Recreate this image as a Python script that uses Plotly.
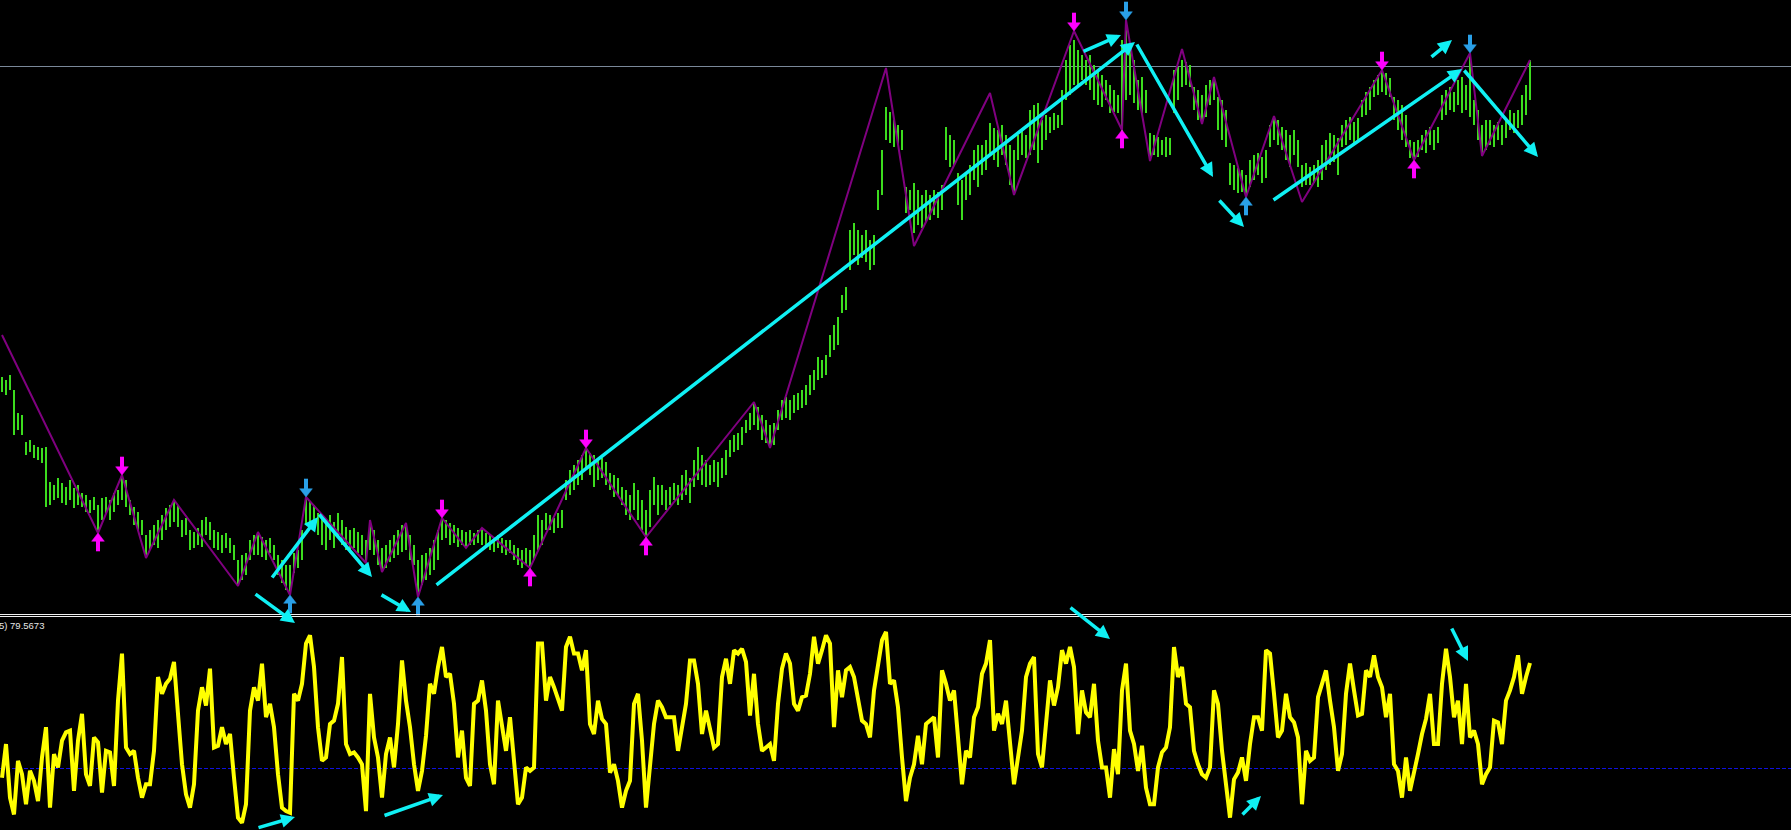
import plotly.graph_objects as go

# ---------------- price bars (bar index 0..382), price in points ----------------
bar_high = [
    236, 233, 238, 223, 200, 198, 171, 173, 168, 166,
    165, 166, 131, 128, 135, 130, 126, 133, 125, 128,
    120, 118, 113, 116, 108, 115, 116, 113, 120, 123,
    138, 133, 113, 106, 101, 93, 78, 83, 88, 93,
    98, 105, 108, 113, 108, 93, 95, 83, 81, 85,
    93, 96, 91, 83, 81, 78, 80, 75, 68, 53,
    58, 60, 73, 78, 81, 76, 73, 75, 68, 58,
    53, 48, 48, 60, 63, 83, 116, 111, 108, 100,
    95, 93, 98, 91, 100, 93, 86, 83, 85, 81,
    78, 73, 93, 83, 73, 65, 68, 73, 78, 83,
    88, 90, 78, 68, 53, 58, 60, 65, 73, 83,
    95, 93, 90, 88, 85, 83, 81, 83, 80, 83,
    85, 80, 78, 76, 78, 75, 73, 73, 68, 65,
    63, 65, 63, 78, 98, 93, 100, 98, 95, 100,
    103, 133, 143, 148, 153, 158, 165, 160, 158, 153,
    155, 151, 140, 138, 135, 126, 123, 118, 130, 123,
    113, 103, 123, 136, 128, 128, 123, 126, 130, 128,
    138, 143, 135, 153, 166, 158, 153, 148, 153, 151,
    155, 163, 173, 178, 180, 186, 193, 200, 211, 206,
    198, 193, 188, 190, 203, 213, 216, 213, 218, 220,
    223, 228, 238, 243, 256, 253, 258, 278, 288, 296,
    318, 326, 383, 390, 383, 378, 383, 373, 378, 423,
    463, 506, 501, 493, 488, 483, 426, 423, 430, 423,
    418, 423, 418, 423, 421, 428, 486, 478, 473, 440,
    433, 438, 448, 463, 468, 468, 473, 490, 485, 483,
    488, 478, 468, 463, 478, 483, 478, 503, 508, 510,
    493, 498, 496, 500, 498, 523, 553, 568, 573, 563,
    558, 553, 558, 548, 543, 538, 533, 528, 523, 518,
    573, 593, 568, 553, 533, 536, 523, 480, 478, 476,
    473, 476, 475, 543, 546, 553, 551, 548, 526, 523,
    518, 528, 533, 536, 516, 513, 503, 450, 448, 445,
    443, 438, 453, 458, 460, 456, 463, 488, 496, 493,
    486, 483, 478, 483, 473, 448, 450, 446, 448, 453,
    468, 473, 480, 478, 475, 488, 493, 496, 491, 495,
    513, 521, 526, 533, 538, 543, 540, 535, 516, 513,
    508, 498, 473, 471, 473, 478, 483, 486, 483, 486,
    518, 523, 526, 521, 533, 536, 528, 560, 513, 503,
    488, 493, 493, 488, 491, 488, 493, 503, 500, 503,
    518, 528, 553,
]
bar_low = [
    221, 218, 223, 178, 183, 178, 158, 161, 155, 153,
    150, 106, 108, 113, 115, 110, 108, 113, 105, 108,
    106, 101, 100, 103, 80, 93, 100, 93, 101, 108,
    113, 106, 98, 88, 83, 78, 55, 63, 68, 65,
    73, 83, 86, 91, 86, 76, 78, 63, 65, 68,
    66, 78, 73, 65, 63, 60, 65, 60, 53, 27,
    33, 38, 53, 58, 58, 56, 53, 60, 53, 38,
    30, 23, 18, 40, 45, 53, 88, 86, 88, 78,
    68, 63, 73, 65, 75, 68, 63, 60, 65, 60,
    58, 50, 63, 58, 48, 41, 45, 51, 55, 58,
    61, 63, 53, 48, 16, 28, 33, 38, 43, 53,
    73, 75, 68, 70, 66, 68, 65, 68, 68, 70,
    68, 65, 63, 61, 65, 60, 58, 60, 53, 48,
    45, 48, 45, 53, 63, 68, 83, 83, 80, 85,
    85, 113, 118, 123, 128, 133, 143, 138, 126, 133,
    135, 128, 123, 116, 118, 108, 98, 93, 103, 93,
    83, 76, 86, 108, 98, 108, 103, 108, 113, 108,
    113, 118, 110, 126, 133, 128, 126, 128, 131, 126,
    135, 138, 156, 161, 163, 168, 180, 183, 188, 183,
    173, 170, 165, 168, 183, 193, 195, 193, 200, 203,
    205, 208, 218, 223, 233, 235, 238, 256, 263, 268,
    300, 303, 343, 358, 348, 355, 351, 343, 348, 403,
    418, 473, 470, 466, 468, 463, 400, 403, 380, 388,
    385, 391, 393, 398, 395, 403, 453, 446, 448, 408,
    393, 413, 418, 433, 426, 438, 443, 458, 453, 446,
    458, 448, 428, 420, 453, 458, 455, 458, 463, 450,
    463, 473, 480, 483, 485, 488, 513, 518, 528, 526,
    533, 528, 523, 513, 508, 506, 513, 500, 501, 500,
    481, 513, 518, 510, 503, 500, 500, 453, 458, 456,
    458, 456, 458, 500, 513, 526, 528, 526, 503, 493,
    493, 496, 508, 513, 483, 473, 466, 428, 423, 420,
    421, 416, 426, 433, 438, 430, 435, 466, 473, 468,
    463, 453, 446, 458, 446, 426, 428, 428, 430, 426,
    433, 443, 448, 451, 438, 466, 468, 473, 468, 473,
    496, 498, 503, 516, 518, 521, 518, 516, 493, 483,
    473, 466, 455, 453, 456, 463, 460, 468, 463, 470,
    493, 498, 503, 501, 508, 500, 503, 496, 488, 473,
    457, 463, 468, 466, 473, 468, 475, 483, 480, 485,
    488, 498, 513,
]

# ---------------- oscillator (0..100), one value per bar ----------------
osc_values = [
    25.7, 41.5, 16.3, 8.4, 33.6, 27.3, 13.2, 28.9, 24.2, 14.7,
    35.2, 49.4, 11.6, 36.8, 30.5, 43.1, 47.0, 47.8, 19.5, 43.1,
    55.7, 27.3, 21.8, 44.6, 42.3, 18.7, 38.3, 37.6, 21.8, 61.9,
    84.0, 39.9, 36.8, 38.3, 25.7, 16.3, 22.6, 22.6, 38.3, 73.0,
    65.1, 69.8, 72.2, 80.1, 55.7, 32.0, 17.9, 11.6, 22.6, 57.2,
    68.2, 59.6, 76.9, 39.9, 40.7, 49.4, 41.5, 46.2, 25.7, 6.9,
    4.5, 13.2, 57.2, 68.2, 61.9, 79.3, 54.1, 60.4, 49.4, 27.3,
    11.6, 10.0, 9.2, 65.1, 61.9, 69.8, 88.7, 92.6, 77.7, 49.4,
    33.6, 35.2, 50.9, 52.5, 60.4, 82.4, 41.5, 36.8, 37.6, 35.2,
    32.0, 10.0, 65.1, 44.6, 35.2, 16.3, 36.8, 44.6, 30.5, 50.9,
    80.8, 61.9, 49.4, 32.0, 19.5, 28.9, 45.4, 69.8, 65.1, 77.7,
    87.1, 73.0, 74.5, 60.4, 35.2, 47.8, 25.7, 21.8, 60.4, 61.9,
    71.4, 57.2, 32.0, 22.6, 61.9, 49.4, 38.3, 54.1, 35.2, 13.2,
    16.3, 30.5, 28.9, 30.5, 88.7, 88.7, 61.9, 73.0, 68.2, 62.7,
    57.2, 87.1, 91.9, 84.0, 84.0, 76.1, 85.6, 50.9, 46.2, 61.9,
    53.3, 50.9, 28.1, 32.0, 24.2, 11.6, 19.5, 24.2, 60.4, 65.1,
    43.1, 11.6, 30.5, 50.9, 61.9, 58.8, 54.1, 54.1, 54.1, 38.3,
    49.4, 60.4, 80.8, 80.8, 69.8, 46.2, 57.2, 49.4, 39.9, 41.5,
    73.0, 81.6, 69.8, 85.6, 84.0, 86.3, 80.1, 54.9, 74.5, 50.9,
    38.3, 39.9, 41.5, 33.6, 60.4, 76.9, 84.0, 79.3, 60.4, 57.2,
    63.5, 64.3, 74.5, 91.9, 79.3, 85.6, 92.6, 88.7, 49.4, 76.1,
    63.5, 76.1, 77.7, 73.0, 63.5, 52.5, 50.9, 44.6, 66.7, 79.3,
    90.3, 94.2, 69.8, 71.4, 58.8, 35.2, 14.7, 25.7, 32.0, 45.4,
    32.0, 50.9, 52.5, 54.1, 35.2, 76.1, 69.8, 61.9, 66.7, 46.2,
    22.6, 38.3, 35.2, 54.1, 58.8, 74.5, 79.3, 90.3, 47.8, 55.7,
    50.9, 61.9, 43.1, 22.6, 35.2, 47.8, 73.0, 79.3, 82.4, 36.8,
    30.5, 49.4, 71.4, 59.6, 68.2, 85.6, 79.3, 87.1, 77.7, 46.2,
    66.7, 56.4, 54.1, 69.8, 43.1, 30.5, 30.5, 16.3, 39.1, 27.3,
    66.7, 79.3, 47.8, 41.5, 28.9, 40.7, 21.0, 13.2, 13.2, 30.5,
    37.6, 39.9, 49.4, 87.1, 73.0, 77.7, 60.4, 58.8, 38.3, 32.0,
    27.3, 25.7, 30.5, 66.7, 60.4, 38.3, 22.6, 6.9, 24.9, 28.1,
    35.2, 24.2, 41.5, 54.1, 54.1, 47.8, 85.6, 84.0, 65.1, 44.6,
    47.8, 65.1, 54.1, 51.7, 44.6, 13.2, 38.3, 33.6, 35.2, 63.5,
    69.8, 76.1, 61.9, 49.4, 28.9, 36.8, 65.1, 79.3, 66.7, 54.9,
    55.7, 76.1, 73.0, 83.2, 73.0, 68.2, 54.1, 65.1, 32.0, 28.9,
    16.3, 35.2, 19.5, 27.3, 36.8, 46.2, 53.3, 65.1, 41.5, 41.5,
    69.8, 86.3, 73.0, 54.1, 61.9, 41.5, 69.8, 44.6, 47.8, 41.5,
    22.6, 27.3, 30.5, 52.5, 51.7, 41.5, 61.9, 66.7, 73.0, 83.2,
    65.1, 73.0, 79.5673,
]
osc_level = 30
osc_label = "5) 79.5673"

# ---------------- zigzag vertices ----------------
zz_idx = [0, 24, 30, 36, 43, 59, 64, 72, 76, 91,
          92, 95, 101, 104, 110, 116, 120, 132, 146, 161,
          188, 192, 221, 228, 247, 253, 268, 280, 281, 287,
          295, 300, 303, 311, 318, 325, 345, 353, 367, 370,
          382]
zz_price = [278, 80, 138, 55, 113, 27, 81, 18, 116, 50,
            93, 41, 90, 16, 95, 65, 85, 45, 165, 76,
            211, 165, 545, 367, 520, 418, 582, 483, 593, 452,
            564, 489, 536, 416, 497, 411, 543, 453, 560, 457,
            553]

# ---------------- signal arrows ----------------
sig_idx = [30, 110, 146, 268, 345, 24, 132, 161, 280, 353, 76, 281, 367, 72, 104, 311]
sig_price = [138, 95, 165, 582, 543, 80, 45, 76, 483, 453, 116, 593, 560, 18, 16, 416]
sig_dir = ["down"] * 5 + ["up"] * 5 + ["down"] * 3 + ["up"] * 3
sig_kind = ["pink"] * 10 + ["blue"] * 6

# ---------------- hand-drawn cyan arrows (bar index, price on full-height scale) ----------------
cyan_tail_idx = [67.25, 79, 63, 94.5, 108.25, 283.5, 270, 304, 317.5, 365.25, 357, 266.75, 362.25, 63.75, 95.25, 309.75]
cyan_tail_price = [34, 100, 20, 19, 27, 570, 561, 414, 412, 544, 555, 6.5, -14, -215, -203, -203]
cyan_head_idx = [79, 92.5, 73.25, 102.25, 283.25, 302.75, 279.75, 310.5, 365, 384, 362.5, 277, 366.5, 73.25, 110.25, 314.75]
cyan_head_price = [96, 36, -10, 1, 571, 436, 578, 386, 544, 456, 573, -26, -48, -204, -182, -183]

resistance_price = 546.5

N = len(bar_high)
assert len(bar_low) == N and len(osc_values) == N
assert len(zz_idx) == len(zz_price)

GREEN = "#3CDC1E"
PURPLE = "#800080"
PINK = "#FF00FF"
BLUE = "#2AA0E8"
CYAN = "#10F0F4"
YELLOW = "#FFFF00"

fig = go.Figure()

# bars as vertical high-low lines
bx, by = [], []
for i, (h, l) in enumerate(zip(bar_high, bar_low)):
    bx += [i, i, None]
    by += [l, h, None]
fig.add_trace(go.Scatter(x=bx, y=by, mode="lines", line=dict(color=GREEN, width=2),
                         xaxis="x", yaxis="y", hoverinfo="skip"))

# zigzag
fig.add_trace(go.Scatter(x=zz_idx, y=zz_price, mode="lines", line=dict(color=PURPLE, width=2),
                         xaxis="x", yaxis="y", hoverinfo="skip"))

# signal arrows (shaft + head)
for kind, color in (("pink", PINK), ("blue", BLUE)):
    for d in ("down", "up"):
        xs = [x for x, k, dd in zip(sig_idx, sig_kind, sig_dir) if k == kind and dd == d]
        ps = [p for p, k, dd in zip(sig_price, sig_kind, sig_dir) if k == kind and dd == d]
        if not xs:
            continue
        sgn = 1 if d == "down" else -1
        fig.add_trace(go.Scatter(x=xs, y=[p + sgn * 12 for p in ps], mode="markers",
                                 marker=dict(symbol="line-ns", size=9, line=dict(width=4, color=color)),
                                 xaxis="x", yaxis="y", hoverinfo="skip", cliponaxis=False))
        fig.add_trace(go.Scatter(x=xs, y=[p + sgn * 5.5 for p in ps], mode="markers",
                                 marker=dict(symbol="triangle-" + d, size=11, color=color,
                                             line=dict(width=0.5, color=color)),
                                 xaxis="x", yaxis="y", hoverinfo="skip", cliponaxis=False))

# oscillator
fig.add_trace(go.Scatter(x=list(range(N)), y=osc_values, mode="lines",
                         line=dict(color=YELLOW, width=4), xaxis="x2", yaxis="y2", hoverinfo="skip"))

# dummy trace for full-height drawing axis
fig.add_trace(go.Scatter(x=[None], y=[None], xaxis="x", yaxis="y3", hoverinfo="skip"))

for tx, ty, hx, hy in zip(cyan_tail_idx, cyan_tail_price, cyan_head_idx, cyan_head_price):
    fig.add_annotation(x=hx, y=hy, ax=tx, ay=ty, xref="x", yref="y3", axref="x", ayref="y3",
                       text="", showarrow=True, arrowhead=2, arrowsize=0.8, arrowwidth=3.5,
                       arrowcolor=CYAN, standoff=0, startstandoff=0)

H = 830.0
fig.add_annotation(x=0, y=(H - 625.5) / H, xref="paper", yref="paper", xanchor="left", yanchor="middle",
                   xshift=-3, text=osc_label, showarrow=False,
                   font=dict(family="Liberation Sans", size=9.5, color="#E6E6E6"))

shapes = [
    dict(type="line", xref="paper", x0=0, x1=1, yref="y", y0=resistance_price, y1=resistance_price,
         line=dict(color="#7A8899", width=1), layer="below"),
    dict(type="line", xref="paper", x0=0, x1=1, yref="y2", y0=osc_level, y1=osc_level,
         line=dict(color="#1010E0", width=1, dash="4px,2px"), layer="below"),
    dict(type="line", xref="paper", x0=0, x1=1, yref="paper", y0=(H - 614.5) / H, y1=(H - 614.5) / H,
         line=dict(color="#F0F0F0", width=1)),
    dict(type="line", xref="paper", x0=0, x1=1, yref="paper", y0=(H - 616.5) / H, y1=(H - 616.5) / H,
         line=dict(color="#F0F0F0", width=1)),
]

fig.update_layout(
    width=1791, height=830,
    margin=dict(l=0, r=0, t=0, b=0),
    paper_bgcolor="#000000", plot_bgcolor="rgba(0,0,0,0)",
    showlegend=False,
    xaxis=dict(range=[-0.5, 447.25], domain=[0, 1], anchor="y", visible=False, showgrid=False, zeroline=False),
    yaxis=dict(range=[0, 613], domain=[217 / H, 1], anchor="x", visible=False, showgrid=False, zeroline=False),
    xaxis2=dict(range=[-0.5, 447.25], domain=[0, 1], anchor="y2", visible=False, showgrid=False, zeroline=False),
    yaxis2=dict(range=[1.1, 101.2], domain=[0, 213 / H], anchor="x2", visible=False, showgrid=False, zeroline=False),
    yaxis3=dict(range=[-217, 613], domain=[0, 1], anchor="x", visible=False, showgrid=False, zeroline=False),
    shapes=shapes,
)

fig.write_html(
    "out.html",
    config={"displayModeBar": False},
    post_script="document.body.style.margin='0';document.body.style.padding='0';"
                "document.body.style.background='#000';document.body.style.overflow='hidden';",
)
